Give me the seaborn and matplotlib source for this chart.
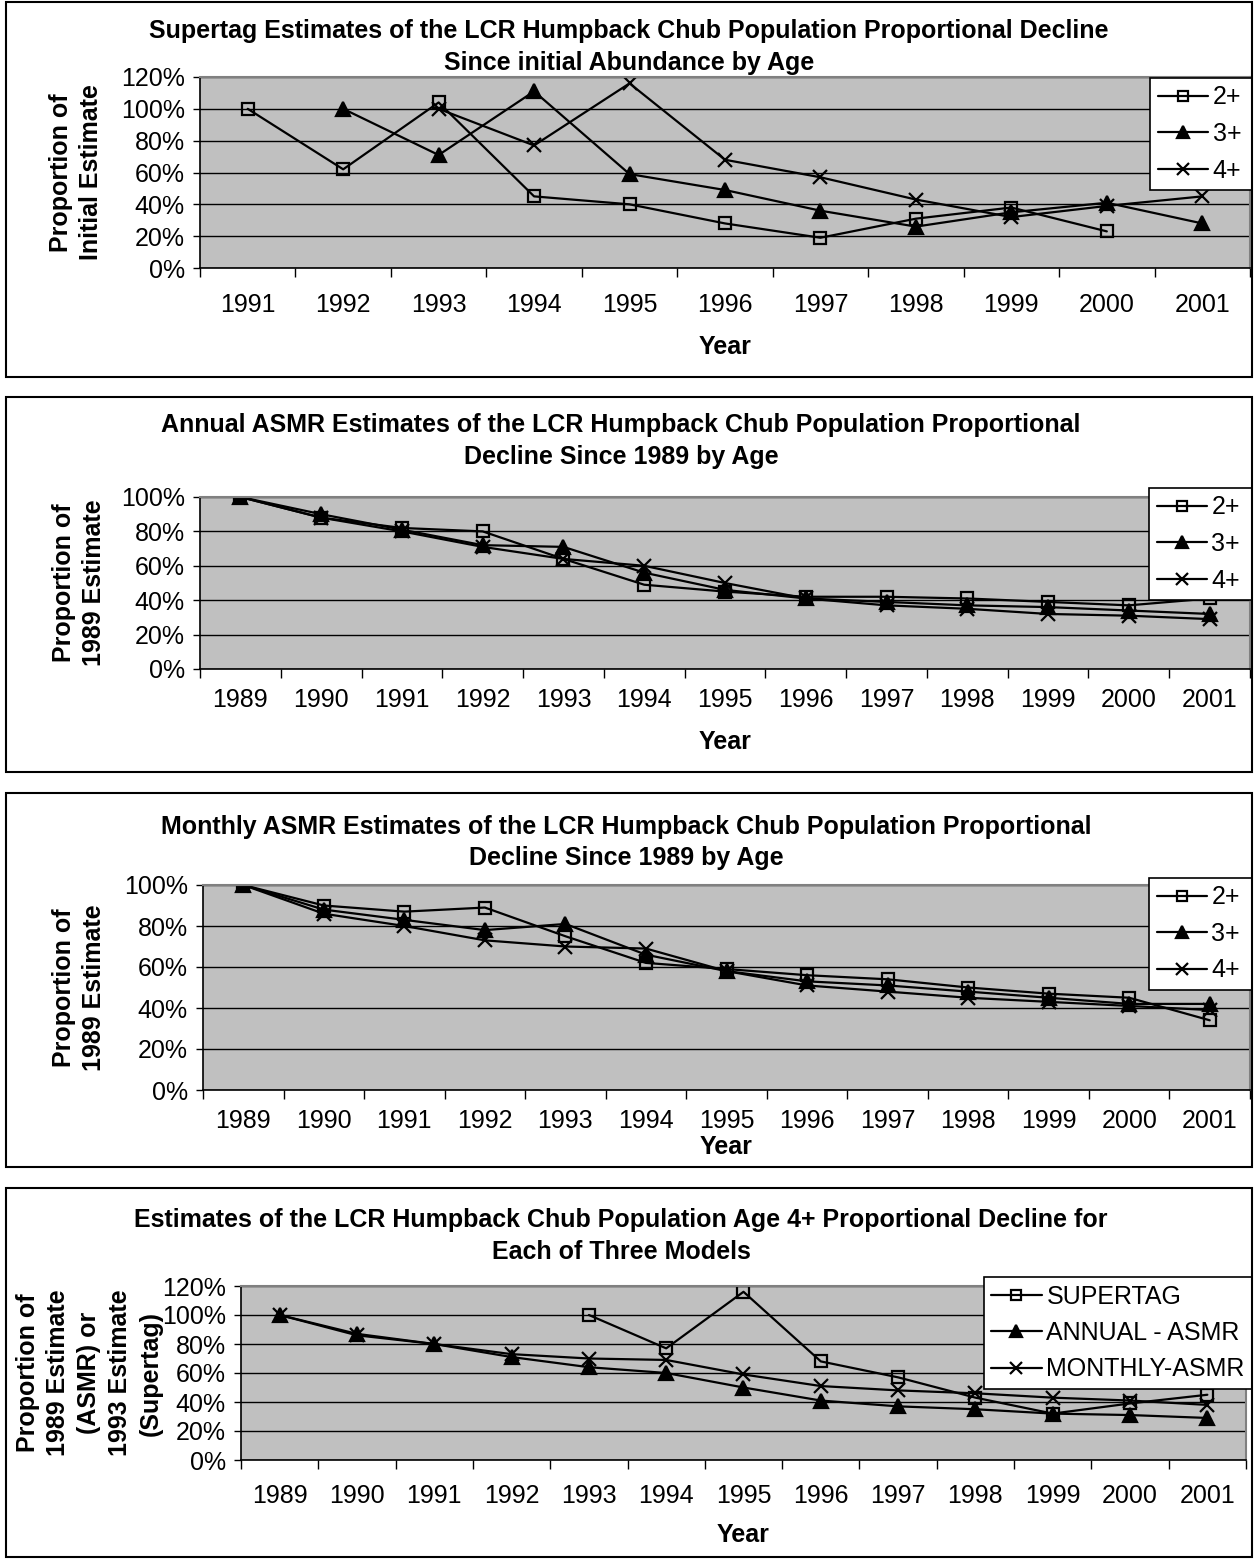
import numpy as np
import matplotlib
matplotlib.use("Agg")
import matplotlib.pyplot as plt
import seaborn as sns
from matplotlib.patches import Rectangle

nan = np.nan

# ---------------- data ----------------
years_supertag = [1991, 1992, 1993, 1994, 1995, 1996, 1997, 1998, 1999, 2000, 2001]
supertag_2p = [100, 62, 104, 45, 40, 28, 19, 31, 38, 23, nan]
supertag_3p = [nan, 100, 71, 111, 59, 49, 36, 26, 35, 41, 28]
supertag_4p = [nan, nan, 100, 77, 116, 68, 57, 43, 32, 39, 45]

years_asmr = [1989, 1990, 1991, 1992, 1993, 1994, 1995, 1996, 1997, 1998, 1999, 2000, 2001]
annual_2p = [100, 88, 82, 80, 64, 49, 45, 42, 42, 41, 39, 37, 41]
annual_3p = [100, 90, 81, 72, 71, 56, 46, 41, 39, 37, 36, 34, 32]
annual_4p = [100, 88, 80, 71, 64, 60, 50, 41, 37, 35, 32, 31, 29]

monthly_2p = [100, 90, 87, 89, 75, 62, 59, 56, 54, 50, 47, 45, 34]
monthly_3p = [100, 88, 83, 78, 81, 66, 58, 53, 51, 48, 45, 42, 42]
monthly_4p = [100, 86, 80, 73, 70, 69, 58, 51, 48, 45, 43, 41, 39]

years_models = [1989, 1990, 1991, 1992, 1993, 1994, 1995, 1996, 1997, 1998, 1999, 2000, 2001]
models_supertag = [nan, nan, nan, nan, 100, 77, 116, 68, 57, 43, 32, 39, 45]
models_annual = [100, 87, 80, 71, 64, 60, 50, 41, 37, 35, 32, 31, 29]
models_monthly = [100, 86, 80, 73, 70, 69, 59, 51, 48, 46, 43, 41, 38]

age_labels = ["2+", "3+", "4+"]
model_labels = ["SUPERTAG", "ANNUAL - ASMR", "MONTHLY-ASMR"]

# ---------------- style ----------------
sns.set_theme(style="ticks")
plt.rcParams["font.family"] = ["Liberation Sans", "DejaVu Sans"]
plt.rcParams["text.color"] = "black"
plt.rcParams["axes.labelcolor"] = "black"
plt.rcParams["xtick.color"] = "black"
plt.rcParams["ytick.color"] = "black"

W, H = 1255, 1560
fig = plt.figure(figsize=(W / 100, H / 100), dpi=100)
fig.patch.set_facecolor("white")

MARKERS = [
    dict(marker="s", markerfacecolor="none", markersize=8.5),
    dict(marker="^", markerfacecolor="black", markersize=9.5),
    dict(marker="x", markersize=10),
]

TICK_FS = 18
LEG_FS = 18
BOLD_FS = 18


def frac_rect(x0, y0, x1, y1):
    return [x0 / W, 1 - y1 / H, (x1 - x0) / W, (y1 - y0) / H]


def panel(box, axpx, years, series, labels, ymax, title_lines, title_x, title_ys,
          ylabel, ylabel_x, tick_pad, year_y, legpx):
    bx = frac_rect(*box)
    fig.add_artist(Rectangle((bx[0], bx[1]), bx[2], bx[3], transform=fig.transFigure,
                             fill=False, edgecolor="black", linewidth=1.5))
    ax = fig.add_axes(frac_rect(*axpx))
    ax.set_facecolor("#C0C0C0")
    for vals, lab, mk in zip(series, labels, MARKERS):
        sns.lineplot(x=years, y=vals, ax=ax, color="black", linewidth=1.6,
                     markeredgecolor="black", markeredgewidth=1.6,
                     label=lab, **mk)
    ax.set_ylim(0, ymax)
    yt = list(range(0, ymax + 1, 20))
    ax.set_yticks(yt)
    ax.set_yticklabels([f"{v}%" for v in yt], fontsize=TICK_FS)
    ax.yaxis.grid(True, color="black", linewidth=1.0)
    ax.xaxis.grid(False)
    ax.set_axisbelow(True)

    ax.set_xlim(years[0] - 0.5, years[-1] + 0.5)
    ax.set_xticks(years)
    ax.set_xticklabels([str(y) for y in years], fontsize=TICK_FS)
    ax.set_xticks([y - 0.5 for y in years] + [years[-1] + 0.5], minor=True)
    ax.tick_params(axis="x", which="major", length=0, pad=tick_pad, colors="black")
    ax.tick_params(axis="x", which="minor", length=6.5, width=1.0, direction="out",
                   color="black")
    ax.tick_params(axis="y", which="major", length=5, width=1.0, direction="out",
                   pad=6, colors="black")

    for s in ("left", "bottom"):
        ax.spines[s].set_color("black")
        ax.spines[s].set_linewidth(1.2)
    for s in ("top", "right"):
        ax.spines[s].set_color("#808080")
        ax.spines[s].set_linewidth(1.5)

    axw = axpx[2] - axpx[0]
    axh = axpx[3] - axpx[1]
    ax.set_xlabel("Year", fontsize=BOLD_FS, fontweight="bold")
    ax.xaxis.label.set_va("center")
    ax.xaxis.set_label_coords(0.5, (axpx[3] - year_y) / axh)

    ax.set_ylabel(ylabel, fontsize=BOLD_FS, fontweight="bold", linespacing=1.35,
                  multialignment="center")
    ax.yaxis.label.set_va("center")
    ax.yaxis.set_label_coords((ylabel_x - axpx[0]) / axw, 0.5)

    for line, ty in zip(title_lines, title_ys):
        fig.text(title_x / W, 1 - ty / H, line, ha="center", va="center",
                 fontsize=BOLD_FS, fontweight="bold")

    lx0, ly0, lx1, ly1 = legpx
    leg = ax.legend(loc="upper left",
                    bbox_to_anchor=(lx0 / W, 1 - ly1 / H, (lx1 - lx0) / W, (ly1 - ly0) / H),
                    bbox_transform=fig.transFigure, mode="expand", borderaxespad=0,
                    fontsize=LEG_FS, frameon=True, fancybox=False, framealpha=1,
                    facecolor="white", edgecolor="black", handlelength=2.0,
                    handletextpad=0.2, borderpad=0.3, labelspacing=0.5,
                    markerscale=0.85)
    leg.get_frame().set_linewidth(1.2)
    return ax


panel((6, 2, 1252, 377), (200, 77, 1250, 268), years_supertag,
      [supertag_2p, supertag_3p, supertag_4p], age_labels, 120,
      ["Supertag Estimates of the LCR Humpback Chub Population Proportional Decline",
       "Since initial Abundance by Age"], 629, (31, 63),
      "Proportion of\nInitial Estimate", 76, 18, 347, (1150, 78, 1252, 188))

panel((6, 397, 1252, 772), (200, 497, 1250, 669), years_asmr,
      [annual_2p, annual_3p, annual_4p], age_labels, 100,
      ["Annual ASMR Estimates of the LCR Humpback Chub Population Proportional",
       "Decline Since 1989 by Age"], 621, (425, 457),
      "Proportion of\n1989 Estimate", 79, 14, 742, (1149, 488, 1252, 594))

panel((6, 793, 1252, 1167), (203, 885, 1250, 1090), years_asmr,
      [monthly_2p, monthly_3p, monthly_4p], age_labels, 100,
      ["Monthly ASMR Estimates of the LCR Humpback Chub Population Proportional",
       "Decline Since 1989 by Age"], 626, (827, 858),
      "Proportion of\n1989 Estimate", 79, 14, 1147, (1149, 878, 1252, 991))

panel((6, 1188, 1252, 1557), (241, 1286, 1246, 1460), years_models,
      [models_supertag, models_annual, models_monthly], model_labels, 120,
      ["Estimates of the LCR Humpback Chub Population Age 4+ Proportional Decline for",
       "Each of Three Models"], 621, (1220, 1252),
      "Proportion of\n1989 Estimate\n(ASMR) or\n1993 Estimate\n(Supertag)", 89, 17, 1535,
      (984, 1277, 1252, 1385))

fig.savefig("out.png", dpi=100, facecolor="white")
